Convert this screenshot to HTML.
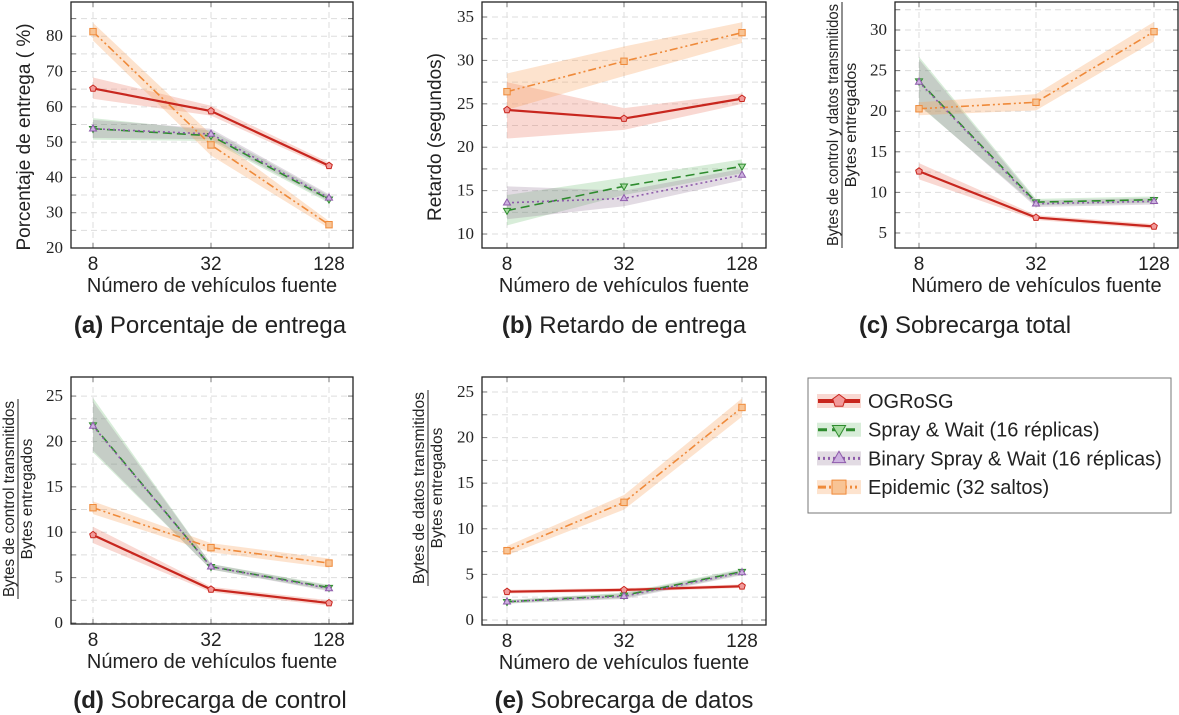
<!DOCTYPE html>
<html><head><meta charset="utf-8"><style>
body{margin:0;background:#fff;width:1179px;height:715px;overflow:hidden}
svg{display:block}
text{font-family:"Liberation Sans",sans-serif;fill:#222}
.tick{font-family:"Liberation Serif",serif;font-size:17px}
</style></head><body>
<svg id="fig" width="1179" height="715"></svg>
<script>
const categories=["8","32","128"];
const seriesNames=["OGRoSG","Spray & Wait (16 réplicas)","Binary Spray & Wait (16 réplicas)","Epidemic (32 saltos)"];
// panel a
const aOG=[65.2,58.8,43.3], aOGlo=[62.3,57.5,42.5], aOGhi=[68.3,60.3,44.2];
const aSW=[53.8,51.8,33.8], aSWlo=[50.7,50.3,32.8], aSWhi=[56.8,53.3,34.8];
const aBS=[53.8,52.3,34.2], aBSlo=[51.2,50.8,33.2], aBShi=[56.3,53.8,35.2];
const aEP=[81.3,49.2,26.6], aEPlo=[78.8,46.2,25.6], aEPhi=[83.8,52.2,27.6];
// panel b
const bOG=[24.3,23.3,25.6], bOGlo=[21.0,22.0,25.0], bOGhi=[27.5,24.5,26.2];
const bSW=[12.7,15.5,17.8], bSWlo=[11.0,14.5,17.0], bSWhi=[14.5,16.5,18.6];
const bBS=[13.6,14.1,16.8], bBSlo=[11.7,13.2,16.2], bBShi=[15.5,15.0,17.5];
const bEP=[26.4,29.9,33.2], bEPlo=[24.3,28.2,32.0], bEPhi=[28.5,31.6,34.4];
// panel c
const cOG=[12.6,6.9,5.8], cOGlo=[11.6,6.6,5.5], cOGhi=[13.6,7.2,6.1];
const cSW=[23.7,8.8,9.1], cSWlo=[20.7,8.4,8.7], cSWhi=[26.7,9.2,9.5];
const cBS=[23.6,8.6,8.9], cBSlo=[20.8,8.2,8.5], cBShi=[26.4,9.0,9.3];
const cEP=[20.3,21.1,29.8], cEPlo=[19.5,20.1,28.6], cEPhi=[21.1,22.1,31.0];
// panel d
const dOG=[9.7,3.7,2.2], dOGlo=[8.8,3.4,1.9], dOGhi=[10.6,4.0,2.5];
const dSW=[21.8,6.2,3.9], dSWlo=[18.8,5.9,3.6], dSWhi=[24.8,6.5,4.2];
const dBS=[21.7,6.2,3.8], dBSlo=[19.0,5.9,3.5], dBShi=[24.4,6.5,4.1];
const dEP=[12.7,8.3,6.6], dEPlo=[12.0,7.8,6.1], dEPhi=[13.4,8.8,7.1];
// panel e
const eOG=[3.1,3.3,3.7], eOGlo=[2.9,3.1,3.5], eOGhi=[3.3,3.5,3.9];
const eSW=[2.0,2.7,5.3], eSWlo=[1.8,2.4,5.0], eSWhi=[2.2,3.0,5.6];
const eBS=[2.0,2.6,5.2], eBSlo=[1.8,2.3,4.9], eBShi=[2.2,2.9,5.5];
const eEP=[7.6,12.9,23.3], eEPlo=[7.1,12.1,22.3], eEPhi=[8.1,13.7,24.3];
const ticksA=[20,30,40,50,60,70,80], ticksB=[10,15,20,25,30,35], ticksC=[5,10,15,20,25,30], ticksDE=[0,5,10,15,20,25];

const NS="http://www.w3.org/2000/svg";
const svg=document.getElementById('fig');
function el(tag,attrs,parent){const e=document.createElementNS(NS,tag);for(const k in attrs)e.setAttribute(k,attrs[k]);(parent||svg).appendChild(e);return e;}
const styles=[
 {c:"#c8261e",w:2.2,dash:"",band:"#e8735f",bo:0.28,mk:"pent",mf:"#f29a9a"},
 {c:"#2e8b2e",w:1.6,dash:"9,5",band:"#4caf50",bo:0.22,mk:"down",mf:"#a6dba0"},
 {c:"#8e5bab",w:1.6,dash:"2,3",band:"#8a7090",bo:0.25,mk:"up",mf:"#cdb2e0"},
 {c:"#ef8a3a",w:1.6,dash:"8,3,2,3,2,3",band:"#f7a35c",bo:0.3,mk:"sq",mf:"#f8c495"}
];
function marker(g,x,y,s,r){
 let e;
 if(s.mk=="sq")e=el('rect',{x:x-r,y:y-r,width:2*r,height:2*r},g);
 else if(s.mk=="pent"){let p=[];for(let i=0;i<5;i++){const a=-Math.PI/2+i*2*Math.PI/5;p.push((x+r*1.1*Math.cos(a)).toFixed(1)+","+(y+r*1.1*Math.sin(a)).toFixed(1));}e=el('polygon',{points:p.join(" ")},g);}
 else if(s.mk=="down")e=el('polygon',{points:`${x-r*1.1},${y-r*0.7} ${x+r*1.1},${y-r*0.7} ${x},${y+r*1.2}`},g);
 else e=el('polygon',{points:`${x-r*1.1},${y+r*0.7} ${x+r*1.1},${y+r*0.7} ${x},${y-r*1.2}`},g);
 e.setAttribute('fill',s.mf);e.setAttribute('stroke',s.c);e.setAttribute('stroke-width',1);
 return e;
}
function panel(cfg){
 const g=el('g',{});
 
 
 const {x0,x1,y0,y1,ymin,ymax,xs}=cfg;
 const Y=v=>y1-(v-ymin)/(ymax-ymin)*(y1-y0);
 const X=i=>xs[i];
 const step=cfg.ticks[1]-cfg.ticks[0];
 for(let v=cfg.ticks[0]-step;v<=ymax;v+=step/2){
  if(v<ymin)continue;const y=Y(v);
  el('line',{x1:x0,x2:x1,y1:y,y2:y,stroke:"#ddd","stroke-dasharray":"6,4","stroke-width":1},g);
  el('line',{x1:x0,x2:x0+5,y1:y,y2:y,stroke:"#777"},g);el('line',{x1:x1-5,x2:x1,y1:y,y2:y,stroke:"#777"},g);
 }
 categories.forEach((c,i)=>{
  el('line',{x1:X(i),x2:X(i),y1:y0,y2:y1,stroke:"#ddd","stroke-dasharray":"6,4"},g);
  el('line',{x1:X(i),x2:X(i),y1:y0,y2:y0+5,stroke:"#777"},g);el('line',{x1:X(i),x2:X(i),y1:y1-5,y2:y1,stroke:"#777"},g);
  const t=el('text',{x:X(i),y:y1+22,"text-anchor":"middle","font-size":19},g);t.textContent=c;
  
 });
 cfg.ticks.forEach(v=>{const t=el('text',{x:x0-8,y:Y(v)+5,"text-anchor":"end",class:"tick"},g);t.textContent=v;
  });
 cfg.series.forEach((s,k)=>{const st=styles[k];
  const pts=s.hi.map((v,i)=>X(i)+","+Y(v)).concat(s.lo.map((v,i)=>X(i)+","+Y(v)).reverse());
  const p=el('polygon',{points:pts.join(" "),fill:st.band,"fill-opacity":st.bo},g);
  });
 const order=[3,0,1,2];
 order.forEach(k=>{const s=cfg.series[k],st=styles[k];
  const l=el('polyline',{points:s.v.map((v,i)=>X(i)+","+Y(v)).join(" "),fill:"none",stroke:st.c,"stroke-width":st.w,"stroke-dasharray":st.dash},g);
  
  s.v.forEach((v,i)=>{const m=marker(g,X(i),Y(v),st,3.2);});
 });
 const fr=el('rect',{x:x0,y:y0,width:x1-x0,height:y1-y0,fill:"none",stroke:"#222","stroke-width":1.3},g);
 
 const xt=el('text',{x:(x0+x1)/2,y:y1+44,"text-anchor":"middle","font-size":20},g);xt.textContent="Número de vehículos fuente";
 
 const cap=el('text',{x:cfg.capX,y:cfg.capY,"text-anchor":"middle","font-size":24},g);
 cap.innerHTML=`<tspan font-weight="bold">(${cfg.letter})</tspan> ${cfg.caption}`;
 
 if(cfg.ylabel){const t=el('text',{transform:`translate(${cfg.ylx},${(y0+y1)/2+12}) rotate(-90)`,"text-anchor":"middle","font-size":19},g);t.textContent=cfg.ylabel;
  }
 else{const fx=cfg.frac;
  const n=el('text',{transform:`translate(${fx.x-4},${fx.cy}) rotate(-90)`,"text-anchor":"middle","font-size":fx.fs,textLength:fx.len-4,lengthAdjust:"spacingAndGlyphs"},g);n.textContent=fx.num;
  const w=fx.len;el('line',{x1:fx.x,x2:fx.x,y1:fx.cy-w/2,y2:fx.cy+w/2,stroke:"#222","stroke-width":1},g);
  const d=el('text',{transform:`translate(${fx.x+14},${fx.cy}) rotate(-90)`,"text-anchor":"middle","font-size":fx.fs},g);d.textContent="Bytes entregados";
  
  }
}
const S=(a,al,ah,b,bl,bh,c,cl,ch,d,dl,dh)=>[{v:a,lo:al,hi:ah},{v:b,lo:bl,hi:bh},{v:c,lo:cl,hi:ch},{v:d,lo:dl,hi:dh}];
panel({name:'panel-a',letter:'a',caption:'Porcentaje de entrega',x0:71,x1:353,y0:2,y1:248,ymin:20,ymax:89.7,xs:[93,211,329],ticks:ticksA,capX:210,capY:333,ylabel:'Porcentaje de entrega ( %)',ylx:30,
 series:S(aOG,aOGlo,aOGhi,aSW,aSWlo,aSWhi,aBS,aBSlo,aBShi,aEP,aEPlo,aEPhi)});
panel({name:'panel-b',letter:'b',caption:'Retardo de entrega',x0:482,x1:766,y0:2,y1:248,ymin:8.39,ymax:36.73,xs:[507,624,742],ticks:ticksB,capX:624,capY:333,ylabel:'Retardo (segundos)',ylx:441,
 series:S(bOG,bOGlo,bOGhi,bSW,bSWlo,bSWhi,bBS,bBSlo,bBShi,bEP,bEPlo,bEPhi)});
panel({name:'panel-c',letter:'c',caption:'Sobrecarga total',x0:895,x1:1178,y0:2,y1:248,ymin:3.15,ymax:33.45,xs:[919,1036,1154],ticks:ticksC,capX:965,capY:333,
 frac:{x:842,cy:125,len:246,fs:16,num:'Bytes de control y datos transmitidos'},
 series:S(cOG,cOGlo,cOGhi,cSW,cSWlo,cSWhi,cBS,cBSlo,cBShi,cEP,cEPlo,cEPhi)});
panel({name:'panel-d',letter:'d',caption:'Sobrecarga de control',x0:71,x1:353,y0:377,y1:624,ymin:-0.11,ymax:27.1,xs:[93,211,329],ticks:ticksDE,capX:210,capY:708,
 frac:{x:18,cy:499,len:200,fs:15.5,num:'Bytes de control transmitidos'},
 series:S(dOG,dOGlo,dOGhi,dSW,dSWlo,dSWhi,dBS,dBSlo,dBShi,dEP,dEPlo,dEPhi)});
panel({name:'panel-e',letter:'e',caption:'Sobrecarga de datos',x0:482,x1:766,y0:377,y1:625,ymin:-0.55,ymax:26.64,xs:[507,624,742],ticks:ticksDE,capX:624,capY:708,
 frac:{x:428,cy:488,len:196,fs:15.5,num:'Bytes de datos transmitidos'},
 series:S(eOG,eOGlo,eOGhi,eSW,eSWlo,eSWhi,eBS,eBSlo,eBShi,eEP,eEPlo,eEPhi)});
const lg=el('g',{});


el('rect',{x:808,y:378,width:363,height:135,fill:"#fff",stroke:"#777"},lg);
seriesNames.forEach((n,k)=>{const st=styles[k];const y=401+k*28.7;
 const e=el('g',{},lg);
 
 
 el('rect',{x:817,y:y-7,width:44,height:14,fill:st.band,"fill-opacity":st.bo},e);
 el('line',{x1:818,x2:860,y1:y,y2:y,stroke:st.c,"stroke-width":k==0?4:3,"stroke-dasharray":st.dash},e);
 marker(e,839,y,st,k==3?7:6);
 const t=el('text',{x:868,y:y+7,"font-size":20},e);t.textContent=n;
});
</script>
</body></html>
